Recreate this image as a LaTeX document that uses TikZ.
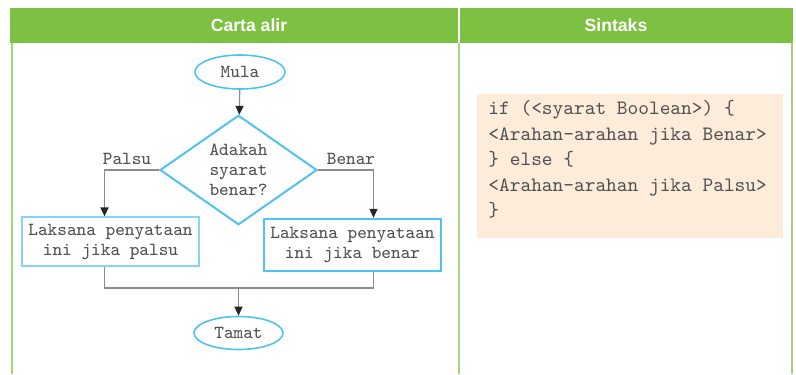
\documentclass[tikz,border=0pt]{standalone}
\usepackage{fontspec}
\setsansfont{Liberation Sans}
\usetikzlibrary{shapes.geometric,arrows.meta}
\definecolor{hijau}{RGB}{125,193,66}
\definecolor{hijaumuda}{RGB}{165,214,118}
\definecolor{biru}{RGB}{79,195,240}
\definecolor{kelabu}{RGB}{140,140,140}
\definecolor{teks}{RGB}{80,80,80}
\definecolor{krim}{RGB}{253,236,218}
\tikzset{
  huruf/.style={text=teks,font=\ttfamily\fontsize{9.2}{10}\selectfont},
  terminal/.style={huruf,ellipse,draw=biru,line width=0.8pt,inner sep=0pt},
  keputusan/.style={huruf,diamond,draw=biru,line width=1pt,inner sep=0pt,align=center,
    minimum width=78.5pt,minimum height=52pt},
  proses/.style={huruf,rectangle,draw=biru,inner sep=0pt,align=center,
    minimum width=88.5pt},
  catatan/.style={huruf,inner sep=0pt},
  kepala/.style={text=white,font=\sffamily\bfseries\fontsize{8.8}{10}\selectfont},
  kod/.style={text=teks,font=\ttfamily\fontsize{10.2}{12.8}\selectfont,align=left,inner sep=0pt},
  aliran/.style={draw=kelabu,line width=0.6pt},
  panah/.style={-{Triangle[length=4.5pt,width=4pt,color=black!85]}}
}
\begin{document}
\begin{tikzpicture}[x=0.5pt,y=-0.5pt]
\useasboundingbox (0,0) rectangle (796,374);
\fill[white] (0,0) rectangle (796,374);
\fill[hijau] (10,8) rectangle (793,43);
\draw[white,line width=1pt] (459,8) -- (459,43);
\draw[hijaumuda,line width=1pt] (12,43) -- (12,374);
\draw[hijaumuda,line width=1pt] (459,43) -- (459,374);
\draw[hijaumuda,line width=1pt] (792,43) -- (792,374);
\node[kepala] (tajukcarta) at (249,25) {Carta alir};
\node[kepala] (tajuksintaks) at (616,25) {Sintaks};
\node[terminal,minimum width=45pt,minimum height=17pt] (mula) at (240,72) {Mula};
\node[keputusan] (syarat) at (238.5,170) {Adakah\\syarat\\benar?};
\node[proses,draw=biru!70,line width=0.6pt,minimum height=24.5pt] (salah) at (110.5,241.5) {Laksana penyataan\\ini jika palsu};
\node[proses,line width=1.2pt,minimum height=26pt] (betul) at (352.5,245) {Laksana penyataan\\ini jika benar};
\node[terminal,minimum width=44.5pt,minimum height=16.5pt] (tamat) at (238.5,333) {Tamat};
\node[catatan] (palsu) at (127,159) {Palsu};
\node[catatan] (benar) at (351,159) {Benar};
\coordinate (cantum) at (238.5,288);
\draw[aliran,panah] (mula) -- (syarat);
\draw[aliran,panah] (syarat.west) -| ([xshift=-3pt]salah.north);
\draw[aliran,panah] (syarat.east) -| ([xshift=10.5pt]betul.north);
\draw[aliran] ([xshift=-3pt]salah.south) |- (cantum) -| ([xshift=10.5pt]betul.south);
\draw[aliran,panah] (cantum) -- (tamat);
\fill[krim] (477,94) rectangle (783,238);
\node[kod,anchor=north west] (sintaks) at (488,100) {if (<syarat Boolean>) \{\\
<Arahan-arahan jika Benar>\\
\} else \{\\
<Arahan-arahan jika Palsu>\\
\}};
\end{tikzpicture}
\end{document}
